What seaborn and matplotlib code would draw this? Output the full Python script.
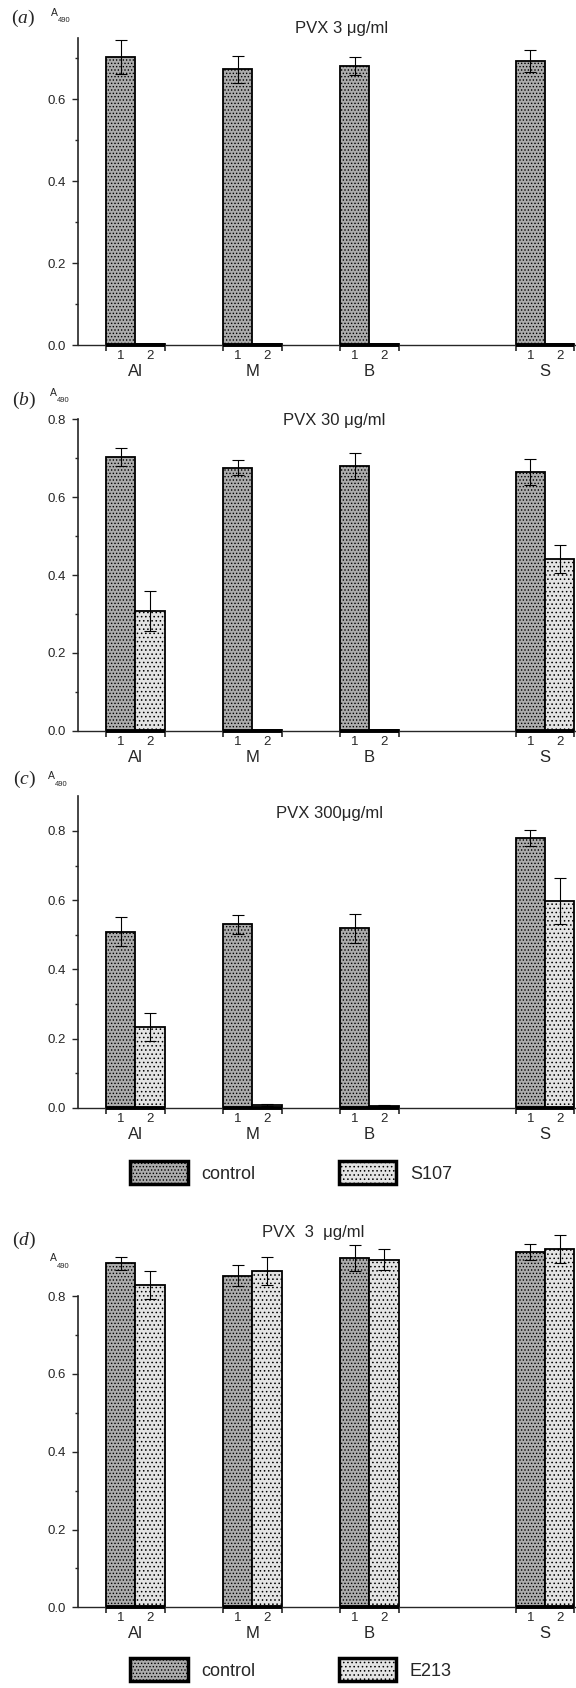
"""
ELISA absorbance (A490) of PVX-coated supports, four panels.
"""

import numpy as np
import pandas as pd
import matplotlib
matplotlib.use("Agg")
import matplotlib.pyplot as plt
from matplotlib.patches import Patch
import seaborn as sns

# -----------------------------
# Data
# -----------------------------
groups = ["Al", "M", "B", "S"]
group_pos = [0, 1, 2, 3.5]

a_control = [0.702, 0.672, 0.680, 0.693]
a_control_err = [0.041, 0.032, 0.022, 0.027]
a_s107 = [0.003, 0.003, 0.003, 0.003]
a_s107_err = [0.0, 0.0, 0.0, 0.0]

b_control = [0.704, 0.676, 0.680, 0.664]
b_control_err = [0.023, 0.019, 0.033, 0.034]
b_s107 = [0.308, 0.003, 0.003, 0.441]
b_s107_err = [0.052, 0.0, 0.0, 0.037]

c_control = [0.509, 0.530, 0.518, 0.779]
c_control_err = [0.043, 0.027, 0.042, 0.023]
c_s107 = [0.234, 0.008, 0.006, 0.597]
c_s107_err = [0.041, 0.003, 0.003, 0.066]

d_control = [0.884, 0.852, 0.898, 0.913]
d_control_err = [0.017, 0.027, 0.033, 0.021]
d_e213 = [0.828, 0.865, 0.894, 0.922]
d_e213_err = [0.036, 0.036, 0.028, 0.036]

titles = ["PVX 3 \u03bcg/ml", "PVX 30 \u03bcg/ml", "PVX 300\u03bcg/ml", "PVX  3  \u03bcg/ml"]
panel_tags = ["a", "b", "c", "d"]

# -----------------------------
# Style
# -----------------------------
sns.set_style("ticks")
plt.rcParams["font.family"] = ["Liberation Sans", "DejaVu Sans"]
plt.rcParams["mathtext.fontset"] = "custom"
plt.rcParams["mathtext.rm"] = "Liberation Serif"
plt.rcParams["mathtext.it"] = "Liberation Serif:italic"
plt.rcParams["hatch.linewidth"] = 0.6

colors = {"dark": "#acacac", "light": "#e4e4e4"}
hatches = {"dark": ".....", "light": "...."}

W, H = 576, 1688
fig = plt.figure(figsize=(W / 100, H / 100), dpi=100)
AX_LEFT = 78


def fx(x):
    return x / W


def fy(y):
    return 1 - y / H


# (top px, bottom px, ylim top, spine top, last major tick)
layout = [
    (37.5, 345.0, 0.75, 0.75, 0.6),
    (419.3, 730.7, 0.80, 0.80, 0.8),
    (796.3, 1107.7, 0.90, 0.90, 0.8),
    (1230.0, 1607.3, 0.97, 0.80, 0.8),
]

series_data = [
    (("control", a_control, a_control_err), ("S107", a_s107, a_s107_err)),
    (("control", b_control, b_control_err), ("S107", b_s107, b_s107_err)),
    (("control", c_control, c_control_err), ("S107", c_s107, c_s107_err)),
    (("control", d_control, d_control_err), ("E213", d_e213, d_e213_err)),
]

title_xy = [(342, 28), (334, 420), (329, 813), (313, 1233)]
tag_xy = [(23, 18), (24, 400), (24, 779), (24, 1240)]
a490_xy = [(51, 13), (50, 393), (48, 776), (50, 1258)]

for k, (top, bottom, ytop, spine_top, major_top) in enumerate(layout):
    ax = fig.add_axes([fx(AX_LEFT), fy(bottom), 1 - fx(AX_LEFT), (bottom - top) / H])

    s1, s2 = series_data[k]
    df = pd.DataFrame({
        "pos": group_pos * 2,
        "value": s1[1] + s2[1],
        "series": [s1[0]] * 4 + [s2[0]] * 4,
    })
    sns.barplot(data=df, x="pos", y="value", hue="series",
                hue_order=[s1[0], s2[0]], native_scale=True,
                width=0.5, gap=0, dodge=True,
                palette=[colors["dark"], colors["light"]],
                edgecolor="black", linewidth=1.3, errorbar=None,
                legend=False, ax=ax)

    errs = [s1[2], s2[2]]
    bar_conts = list(ax.containers)
    for i, cont in enumerate(bar_conts):
        key = "dark" if i == 0 else "light"
        xs, ys = [], []
        for bar in cont:
            bar.set_hatch(hatches[key])
            xs.append(bar.get_x() + bar.get_width() / 2)
            ys.append(bar.get_height())
        ax.errorbar(xs, ys, yerr=errs[i], fmt="none", ecolor="black",
                    elinewidth=0.8, capsize=4.3, capthick=0.8, zorder=6)

    ax.set(xlabel="", ylabel="")
    ax.set_xlim(-0.49, 3.766)
    ax.set_ylim(0, ytop)

    # y axis
    majors = np.round(np.arange(0, major_top + 0.01, 0.2), 1)
    minors = np.round(np.arange(0.1, min(spine_top, 0.75) + 0.001, 0.2), 1)
    ax.set_yticks(majors, labels=[f"{v:.1f}" for v in majors])
    ax.set_yticks(minors, minor=True)
    ax.tick_params(axis="y", which="major", direction="out", length=4.5,
                   width=1.0, labelsize=9.5, pad=4)
    ax.tick_params(axis="y", which="minor", direction="out", length=2.5, width=1.0)

    # x axis: brackets under each group
    lefts = [p - 0.25 for p in group_pos]
    rights = [p + 0.25 for p in group_pos]
    edges = sorted(lefts + rights)
    ax.set_xticks(edges, labels=[""] * len(edges))
    ax.set_xticks([], minor=True)
    ax.tick_params(axis="x", which="major", direction="out", length=4,
                   width=1.2, pad=0)
    ax.hlines([0] * len(group_pos), lefts, rights,
              colors="black", linewidth=2.8, clip_on=False, zorder=5)

    for p, g in zip(group_pos, groups):
        for off, lab in ((-0.125, "1"), (0.125, "2")):
            ax.annotate(lab, xy=(p + off, 0), xycoords="data", xytext=(0, -8),
                        textcoords="offset points", ha="center", va="center",
                        fontsize=9.5, annotation_clip=False)
        ax.annotate(g, xy=(p, 0), xycoords="data", xytext=(0, -19),
                    textcoords="offset points", ha="center", va="center",
                    fontsize=12, annotation_clip=False)

    for side in ("top", "right"):
        ax.spines[side].set_visible(False)
    ax.spines["left"].set_linewidth(1.2)
    ax.spines["bottom"].set_linewidth(1.0)
    ax.spines["left"].set_bounds(0, spine_top)

    # texts around the panel
    tx, ty = title_xy[k]
    fig.text(fx(tx), fy(ty), titles[k], ha="center", va="center", fontsize=12)
    px, py = tag_xy[k]
    fig.text(fx(px), fy(py), rf"$(\mathit{{{panel_tags[k]}}})$", ha="center",
             va="center", fontsize=14)
    axx, axy = a490_xy[k]
    fig.text(fx(axx), fy(axy), "A", ha="left", va="center", fontsize=7.5)
    fig.text(fx(axx + 7), fy(axy + 8), "490", ha="left", va="center", fontsize=5.5)

# -----------------------------
# Legends
# -----------------------------
for (lab2, top_px) in (("S107", 1161), ("E213", 1658)):
    handles = [
        Patch(facecolor=colors["dark"], hatch=hatches["dark"], edgecolor="black",
              linewidth=2.5, label="control"),
        Patch(facecolor=colors["light"], hatch=hatches["light"], edgecolor="black",
              linewidth=2.5, label=lab2),
    ]
    fig.legend(handles=handles, loc="upper left",
               bbox_to_anchor=(fx(130), fy(top_px)), ncol=2, frameon=False,
               borderpad=0, borderaxespad=0, fontsize=13,
               handlelength=3.2, handleheight=1.6, handletextpad=0.75,
               columnspacing=4.6)

plt.savefig("out.png", dpi=100)
